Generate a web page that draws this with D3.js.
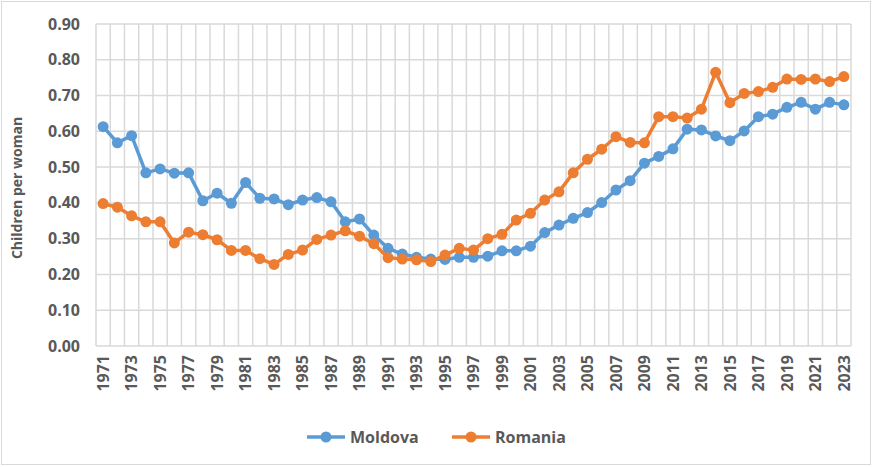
<!DOCTYPE html>
<html lang="en">
<head>
<meta charset="utf-8">
<script src="https://d3js.org/d3.v7.min.js"></script>
<style>
  body { margin: 0; background: #fff; }
  text { font-family: "Open Sans", sans-serif; fill: #595959; }
</style>
</head>
<body>
<script>
  // data
  var years = d3.range(1971, 2024);
  var moldova = [0.613, 0.568, 0.588, 0.484, 0.495, 0.483, 0.484, 0.406, 0.427, 0.399,
    0.457, 0.413, 0.411, 0.395, 0.408, 0.415, 0.403, 0.347, 0.355, 0.310,
    0.273, 0.257, 0.248, 0.243, 0.242, 0.248, 0.248, 0.251, 0.266, 0.266,
    0.279, 0.317, 0.338, 0.357, 0.373, 0.401, 0.436, 0.462, 0.511, 0.530,
    0.551, 0.606, 0.604, 0.587, 0.574, 0.601, 0.641, 0.648, 0.667, 0.681,
    0.662, 0.681, 0.674];
  var romania = [0.398, 0.388, 0.364, 0.347, 0.347, 0.288, 0.318, 0.311, 0.297, 0.267,
    0.267, 0.244, 0.228, 0.256, 0.268, 0.298, 0.310, 0.322, 0.307, 0.286,
    0.247, 0.243, 0.241, 0.236, 0.254, 0.273, 0.268, 0.300, 0.312, 0.352,
    0.371, 0.408, 0.431, 0.484, 0.522, 0.550, 0.585, 0.569, 0.568, 0.641,
    0.641, 0.637, 0.662, 0.765, 0.680, 0.706, 0.711, 0.723, 0.746, 0.745,
    0.746, 0.739, 0.753];
  var yTicks = [0, 0.1, 0.2, 0.3, 0.4, 0.5, 0.6, 0.7, 0.8, 0.9];
  var seriesNames = ["Moldova", "Romania"];
  var colors = ["#5b9bd5", "#ed7d31"];

  const W = 872, H = 467;
  const mLeft = 96, mRight = 851, mTop = 24, mBottom = 346;

  const svg = d3.select("body").append("svg")
    .attr("width", W).attr("height", H);

  svg.append("rect")
    .attr("x", 1.5).attr("y", 1.5)
    .attr("width", W - 3).attr("height", H - 4)
    .attr("fill", "#fff").attr("stroke", "#d9d9d9");

  var x = d3.scaleBand().domain(years).range([mLeft, mRight]).padding(0);
  var y = d3.scaleLinear().domain([0, 0.9]).range([mBottom, mTop]);
  var cx = function(d) { return x(d) + x.bandwidth() / 2; };

  // horizontal grid
  svg.append("g").selectAll("line")
    .data(yTicks).enter().append("line")
    .attr("x1", mLeft).attr("x2", mRight)
    .attr("y1", d => y(d)).attr("y2", d => y(d))
    .attr("stroke", "#d9d9d9").attr("stroke-width", 1.5);

  // vertical grid at category boundaries
  var bounds = years.map(d => x(d)).concat([mRight]);
  svg.append("g").selectAll("line")
    .data(bounds).enter().append("line")
    .attr("x1", d => d).attr("x2", d => d)
    .attr("y1", mTop).attr("y2", mBottom)
    .attr("stroke", "#d9d9d9").attr("stroke-width", 1.5);

  // y labels
  svg.append("g").selectAll("text")
    .data(yTicks).enter().append("text")
    .attr("x", 80).attr("y", d => y(d))
    .attr("dy", "0.35em")
    .attr("text-anchor", "end")
    .style("font-size", "16px").style("font-weight", 700)
    .text(d => d.toFixed(2));

  // y title
  svg.append("text")
    .attr("transform", "translate(22," + ((mTop + mBottom) / 2 + 3) + ") rotate(-90)")
    .attr("text-anchor", "middle")
    .style("font-size", "14px").style("font-weight", 700)
    .text("Children per woman");

  // x labels, every other year
  svg.append("g").selectAll("text")
    .data(years.filter((d, i) => i % 2 === 0)).enter().append("text")
    .attr("transform", d => "translate(" + cx(d) + ",355) rotate(-90)")
    .attr("dy", "0.36em")
    .attr("text-anchor", "end")
    .style("font-size", "16px").style("font-weight", 700)
    .text(d => d);

  // lines and markers
  var line = d3.line().x((d, i) => cx(years[i])).y(d => y(d));
  [moldova, romania].forEach(function(vals, k) {
    svg.append("path")
      .datum(vals)
      .attr("d", line)
      .attr("fill", "none")
      .attr("stroke", colors[k])
      .attr("stroke-width", 3.5)
      .attr("stroke-linejoin", "round");
    svg.append("g").selectAll("circle")
      .data(vals).enter().append("circle")
      .attr("cx", (d, i) => cx(years[i]))
      .attr("cy", d => y(d))
      .attr("r", 5.5)
      .attr("fill", colors[k]);
  });

  // legend
  var legX = [307, 452];
  seriesNames.forEach(function(name, k) {
    var g = svg.append("g").attr("transform", "translate(" + legX[k] + ",437)");
    g.append("line").attr("x1", 0).attr("x2", 38)
      .attr("stroke", colors[k]).attr("stroke-width", 3.5);
    g.append("circle").attr("cx", 19).attr("r", 5.5).attr("fill", colors[k]);
    g.append("text").attr("x", 43).attr("dy", "0.36em")
      .style("font-size", "16px").style("font-weight", 700)
      .text(name);
  });
</script>
</body>
</html>
